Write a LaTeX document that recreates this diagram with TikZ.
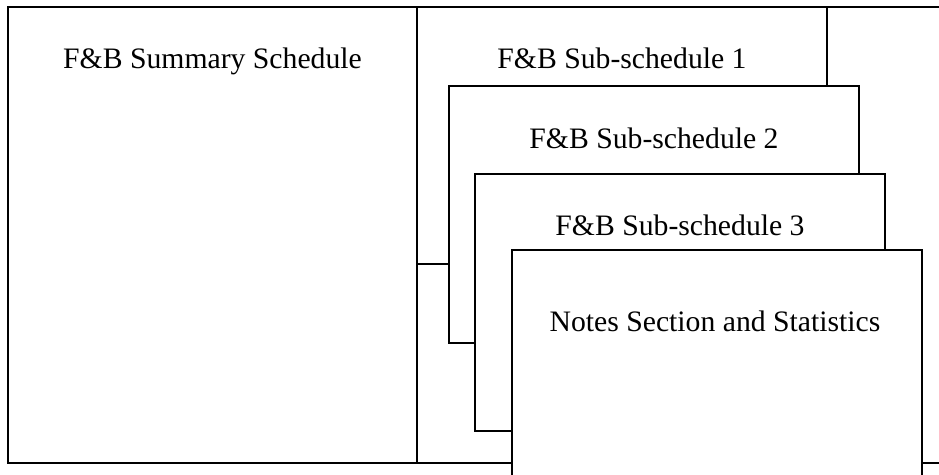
\documentclass[tikz,border=0pt]{standalone}
\usepackage{fontspec}
\setmainfont{Liberation Serif}
\tikzset{
  sheet/.style={draw=black, line width=1.2pt, fill=white, inner sep=0pt, outer sep=0pt,
    anchor=north west, minimum width=410pt, minimum height=257pt},
  heading/.style={anchor=base, inner sep=0pt, font=\fontsize{29.7}{36}\selectfont},
  frameline/.style={draw=black, line width=1.2pt}
}
\begin{document}
\begin{tikzpicture}[x=1pt,y=-1pt]
\useasboundingbox (0,0) rectangle (939,474);
\begin{scope}
  \clip (0,0) rectangle (939,474);
  % outer frame, running past the right edge
  \draw[frameline] (8,7) rectangle (960,463);
  % summary schedule panel
  \node[sheet, minimum width=409pt, minimum height=456pt] (summary) at (8,7) {};
  % stacked sub-schedule sheets
  \node[sheet] (sub1) at (417,7) {};
  \node[sheet] (sub2) at (449,86) {};
  \node[sheet] (sub3) at (475,174) {};
  \node[sheet, minimum height=258pt] (notes) at (512,250) {};
  % headings
  \node[heading] (tsummary) at ([yshift=-61pt]summary.north) {F\&B Summary Schedule};
  \node[heading] (tsub1) at ([yshift=-61pt]sub1.north) {F\&B Sub-schedule 1};
  \node[heading] (tsub2) at ([yshift=-62pt]sub2.north) {F\&B Sub-schedule 2};
  \node[heading] (tsub3) at ([yshift=-61pt]sub3.north) {F\&B Sub-schedule 3};
  \node[heading] (tnotes) at ([xshift=-2pt,yshift=-81pt]notes.north) {Notes Section and Statistics};
\end{scope}
\end{tikzpicture}
\end{document}
